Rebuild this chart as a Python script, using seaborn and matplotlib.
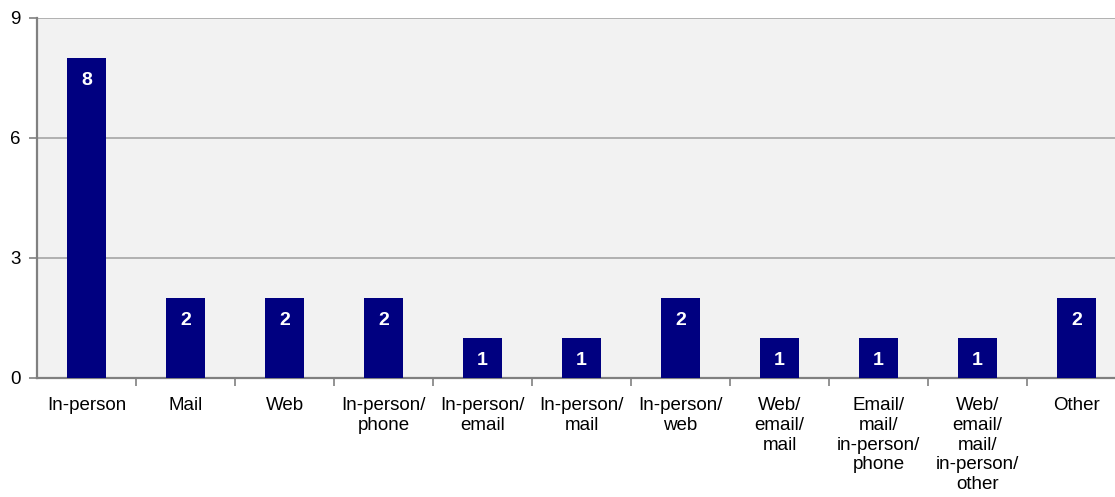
import matplotlib
matplotlib.use('Agg')
import matplotlib.pyplot as plt
import seaborn as sns
import pandas as pd

# Chart values
categories = ['In-person', 'Mail', 'Web', 'In-person/\nphone', 'In-person/\nemail',
              'In-person/\nmail', 'In-person/\nweb', 'Web/\nemail/\nmail',
              'Email/\nmail/\nin-person/\nphone', 'Web/\nemail/\nmail/\nin-person/\nother',
              'Other']
counts = [8, 2, 2, 2, 1, 1, 2, 1, 1, 1, 2]
y_ticks = [0, 3, 6, 9]

df = pd.DataFrame({'category': categories, 'count': counts})

sns.set_style('white')
plt.rcParams['font.family'] = ['Liberation Sans', 'DejaVu Sans']
plt.rcParams['text.color'] = 'black'
plt.rcParams['xtick.labelcolor'] = 'black'
plt.rcParams['ytick.labelcolor'] = 'black'

fig = plt.figure(figsize=(11.15, 4.97), dpi=100)
# plot area runs slightly past the right edge of the image
ax = fig.add_axes([37 / 1115, 1 - 378 / 497, 1089 / 1115, 360 / 497])
ax.set_facecolor('#F2F2F2')

sns.barplot(data=df, x='category', y='count', color='#000080', width=0.4,
            saturation=1, ax=ax, zorder=3, edgecolor='#000080', linewidth=0)

# White bold value labels inside the bars
for i, v in enumerate(counts):
    ax.annotate(str(v), (i, v), xytext=(0, -16), textcoords='offset points',
                ha='center', va='center', color='white', fontsize=14,
                fontweight='bold', zorder=4)

ax.set_ylim(0, 9)
ax.set_xlim(-0.5, len(categories) - 0.5)
ax.set_yticks(y_ticks)
ax.yaxis.grid(True, color='#A6A6A6', linewidth=1.2, zorder=1)
ax.set_axisbelow(True)

# Ticks between categories on x axis
ax.set_xticks([i + 0.5 for i in range(len(categories) - 1)], minor=True)
ax.tick_params(axis='x', which='minor', length=6, width=1.2, color='#808080', direction='out')
ax.tick_params(axis='x', which='major', length=0, pad=14, labelsize=13.5)
ax.tick_params(axis='y', length=6, width=1.2, color='#808080', direction='out',
               pad=6, labelsize=13.5)
ax.tick_params(bottom=True, left=True)
ax.xaxis.set_tick_params(which='minor', bottom=True)

for s in ['top', 'right']:
    ax.spines[s].set_visible(False)
for s in ['left', 'bottom']:
    ax.spines[s].set_color('#808080')
    ax.spines[s].set_linewidth(1.6)

ax.set_xlabel('')
ax.set_ylabel('')
for lbl in ax.get_xticklabels():
    lbl.set_verticalalignment('top')
    lbl.set_multialignment('center')

fig.savefig('out.png', dpi=100)
